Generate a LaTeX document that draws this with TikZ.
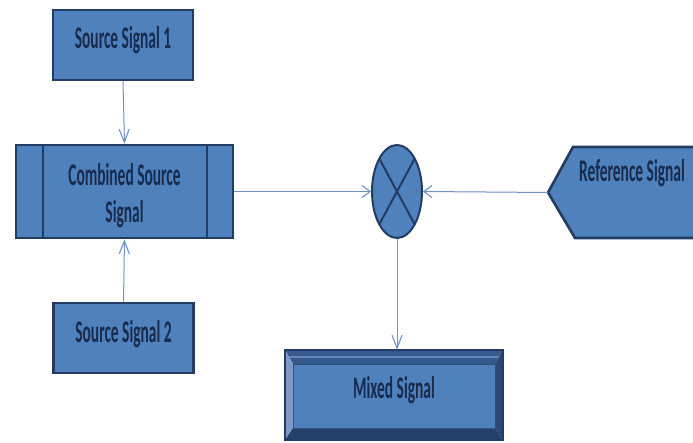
\documentclass[tikz,border=0pt]{standalone}
\usepackage{fontspec}
\usetikzlibrary{shapes.geometric,arrows.meta,calc}
\newfontfamily\boxfont[FakeStretch=0.49]{Carlito}

\definecolor{boxfill}{HTML}{4F81BD}
\definecolor{boxline}{HTML}{223C63}
\definecolor{boxtext}{HTML}{172B4D}
\definecolor{wire}{HTML}{7091C6}
\definecolor{bevtop}{HTML}{36598C}
\definecolor{bevleft}{HTML}{7E99C6}
\definecolor{bevbot}{HTML}{25406B}
\definecolor{bevright}{HTML}{2A4775}

\tikzset{
  label text/.style={font=\boxfont\bfseries\fontsize{31.5}{37}\selectfont,
    text=boxtext, align=center},
  one line/.style={text height=21pt, text depth=13pt},
  block/.style={draw=boxline, line width=2.6pt, fill=boxfill, rectangle,
    inner sep=0pt, label text},
  wirev/.style={draw=wire, line width=1pt,
    -{Straight Barb[length=13pt,width=10pt,line width=1.1pt]}},
  wireh/.style={draw=wire, line width=1pt,
    -{Straight Barb[length=8pt,width=12pt,line width=1.1pt]}},
}

\begin{document}
\begin{tikzpicture}[x=1pt,y=-1pt]
\useasboundingbox (0,0) rectangle (693,443);
\fill[white] (0,0) rectangle (693,443);

% source blocks
\node[block, one line, minimum width=140pt, minimum height=70pt] (s1) at (123,45) {Source Signal 1};
\node[block, one line, minimum width=140pt, minimum height=70pt] (s2) at (123.5,338) {Source Signal 2};

% combined block with side bars
\node[block, minimum width=217pt, minimum height=93pt] (comb) at (124.5,191.5) {};
\draw[boxline, line width=2pt] (43,145) -- (43,238) (207,145) -- (207,238);
\node[label text] (combtxt) at (124.5,196) {Combined Source\\Signal};

% mixer
\node[ellipse, draw=boxline, line width=2pt, fill=boxfill,
      minimum width=50pt, minimum height=93pt, inner sep=0pt] (mix) at (397,191.5) {};
\draw[boxline, line width=2pt]
  ($(mix.center)+(-17.7,-32.9)$) -- ($(mix.center)+(17.7,32.9)$)
  ($(mix.center)+(17.7,-32.9)$) -- ($(mix.center)+(-17.7,32.9)$);

% reference pentagon (runs past the right edge)
\begin{scope}
\clip (0,0) rectangle (693,443);
\draw[boxline, line width=2.6pt, fill=boxfill, line join=miter]
  (573,147) -- (700,147) -- (700,238) -- (575,238) -- (548,192.5) -- cycle;
\end{scope}
\coordinate (reftip) at (548,192.5);
\node[label text, one line] (ref) at (632,177.5) {Reference Signal};

% mixed signal bevelled block
\node[rectangle, minimum width=218pt, minimum height=90pt, inner sep=0pt] (out) at (394,395) {};
\fill[bevtop] (285,350) -- (503,350) -- (495,364) -- (293,364) -- cycle;
\draw[bevleft!70!bevtop, line width=1.5pt] (289,357) -- (499,357);
\fill[bevleft] (285,350) -- (293,364) -- (293,428) -- (285,440) -- cycle;
\fill[bevbot] (285,440) -- (293,428) -- (495,428) -- (503,440) -- cycle;
\fill[bevright] (503,350) -- (495,364) -- (495,428) -- (503,440) -- cycle;
\draw[boxline!70!boxfill, line width=1pt, fill=boxfill] (293,364) rectangle (495,428);
\draw[boxline, line width=1.5pt] (285,350) rectangle (503,440);
\node[label text, one line] (outtxt) at (394,394.5) {Mixed Signal};

% connectors
\draw[wirev] (s1.south) -- (comb.north);
\draw[wirev] (s2.north) -- (comb.south);
\draw[wireh] (comb.east) -- (mix.west);
\draw[wireh] (reftip) -- (mix.east);
\draw[wirev] (mix.south) -- (mix.south |- out.north);
\end{tikzpicture}
\end{document}
